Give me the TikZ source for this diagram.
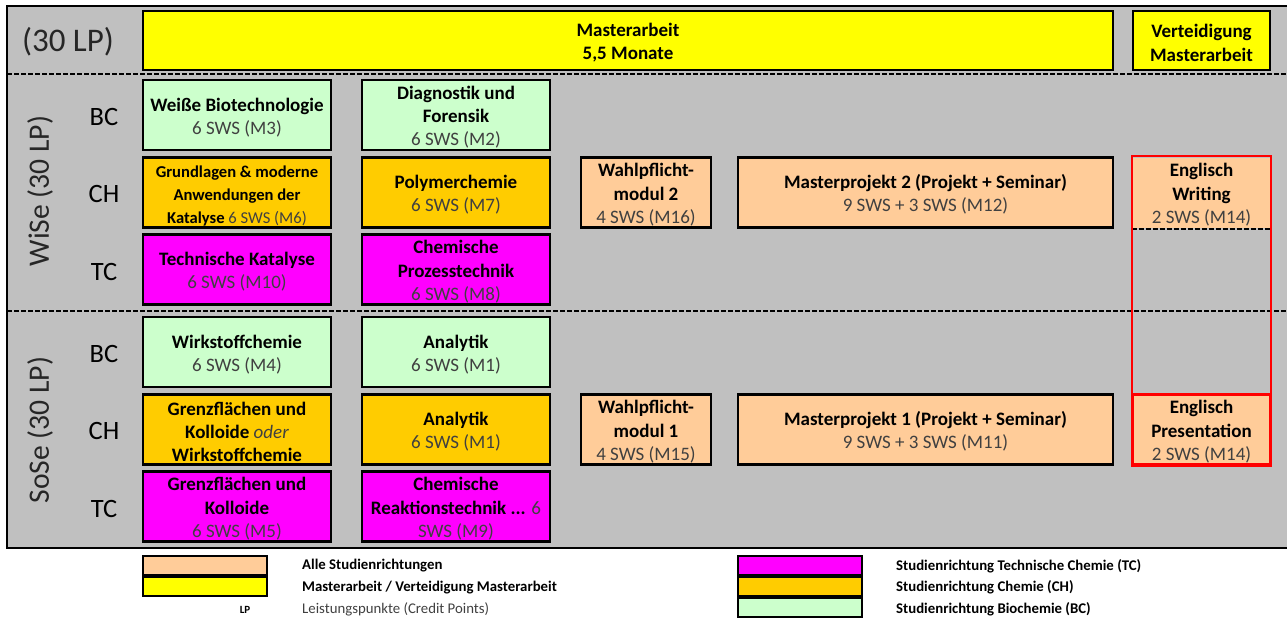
\documentclass[tikz,border=0pt]{standalone}
\usepackage{fontspec}
\setmainfont{Carlito}
\definecolor{bggray}{HTML}{C0C0C0}
\definecolor{cyellow}{HTML}{FFFF00}
\definecolor{cgreen}{HTML}{CCFFCC}
\definecolor{corange}{HTML}{FFCC00}
\definecolor{cmagenta}{HTML}{FF00FF}
\definecolor{cpeach}{HTML}{FFCC99}
\definecolor{cred}{HTML}{FF0000}
\definecolor{swsgray}{HTML}{404040}
\newcommand\swstext[1]{{\mdseries\color{swsgray}#1}}
\newcommand\fl{\rule{0pt}{18pt}}
\tikzset{
  modbox/.style={draw=black, line width=2.2pt, inner sep=0pt, align=center,
    font=\bfseries\fontsize{19}{23.2}\selectfont, text=black},
  smallbox/.style={modbox, font=\bfseries\fontsize{16.6}{23.2}\selectfont},
  w1/.style={minimum width=188pt, minimum height=70pt},
  w3/.style={minimum width=130pt, minimum height=70pt},
  w4/.style={minimum width=375pt, minimum height=70pt},
  w5/.style={minimum width=137pt, minimum height=70pt},
  sidelabel/.style={font=\fontsize{26.5}{30}\selectfont, inner sep=0pt},
  semlabel/.style={font=\fontsize{29.6}{32}\selectfont, inner sep=0pt, text=black!85},
  sepline/.style={line width=2pt, dash pattern=on 5pt off 2pt},
  legbox/.style={draw=black, line width=2pt, minimum width=124pt, minimum height=19pt, inner sep=0pt},
  legtext/.style={anchor=west, inner sep=0pt, font=\bfseries\fontsize{14.8}{17}\selectfont},
}
\begin{document}
\begin{tikzpicture}[x=1pt, y=-1pt]
\clip (0,0) rectangle (1287,619);
\useasboundingbox (0,0) rectangle (1287,619);
% background panel
\fill[bggray] (7,6) rectangle (1300,548);
\draw[line width=2.2pt] (1300,6) -- (7,6) -- (7,548) -- (1300,548);
\coordinate (s1l) at (7,74);
\coordinate (s1r) at (1300,74);
\coordinate (s2l) at (7,311);
\coordinate (s2r) at (1300,311);
\draw[sepline] (s1l) -- (s1r);
\draw[sepline] (s2l) -- (s2r);

% left labels
\node[semlabel, font=\fontsize{33}{36}\selectfont] (lp) at (68,42) {(30 LP)};
\node[semlabel, rotate=90] (wise) at (40,191) {WiSe (30 LP)};
\node[semlabel, rotate=90] (sose) at (40,430) {SoSe (30 LP)};
\node[sidelabel] (bc1) at (104,117) {BC};
\node[sidelabel] (ch1) at (104,194) {CH};
\node[sidelabel] (tc1) at (104,272) {TC};
\node[sidelabel] (bc2) at (104,354) {BC};
\node[sidelabel] (ch2) at (104,431) {CH};
\node[sidelabel] (tc2) at (104,509) {TC};

% top row
\node[modbox, fill=cyellow, minimum width=970pt, minimum height=59pt] (ma) at (628,40.5) {\fl Masterarbeit\\5,5 Monate};
\node[modbox, fill=cyellow, minimum width=137pt, minimum height=59pt] (vm) at (1201.5,40.5) {\fl Verteidigung\\Masterarbeit};

% WiSe
\node[modbox, w1, fill=cgreen] (m3) at (237,115) {\fl Weiße Biotechnologie\\\swstext{6 SWS (M3)}};
\node[modbox, w1, fill=cgreen] (m2) at (456,115) {\fl Diagnostik und\\Forensik\\\swstext{6 SWS (M2)}};
\node[smallbox, w1, fill=corange] (m6) at (237,192.5) {\fl Grundlagen \& moderne\\Anwendungen der\\Katalyse \swstext{6 SWS (M6)}};
\node[modbox, w1, fill=corange] (m7) at (456,192.5) {\fl Polymerchemie\\\swstext{6 SWS (M7)}};
\node[modbox, w3, fill=cpeach] (m16) at (646,192.5) {\fl Wahlpflicht-\\modul 2\\\swstext{4 SWS (M16)}};
\node[modbox, w4, fill=cpeach] (m12) at (925.5,192.5) {\fl Masterprojekt 2 (Projekt + Seminar)\\\swstext{9 SWS + 3 SWS (M12)}};
\node[modbox, w5, fill=cpeach, draw=none] (ew) at (1201.5,192.5) {\fl Englisch\\Writing\\\swstext{2 SWS (M14)}};
\node[modbox, w1, fill=cmagenta] (m10) at (237,269.5) {\fl Technische Katalyse\\\swstext{6 SWS (M10)}};
\node[modbox, w1, fill=cmagenta] (m8) at (456,269.5) {\fl Chemische\\Prozesstechnik\\\swstext{6 SWS (M8)}};

% SoSe
\node[modbox, w1, fill=cgreen] (m4) at (237,352) {\fl Wirkstoffchemie\\\swstext{6 SWS (M4)}};
\node[modbox, w1, fill=cgreen] (m1a) at (456,352) {\fl Analytik\\\swstext{6 SWS (M1)}};
\node[modbox, w1, fill=corange] (gk) at (237,429.5) {\fl Grenzflächen und\\Kolloide \swstext{\itshape oder}\\Wirkstoffchemie};
\node[modbox, w1, fill=corange] (m1b) at (456,429.5) {\fl Analytik\\\swstext{6 SWS (M1)}};
\node[modbox, w3, fill=cpeach] (m15) at (646,429.5) {\fl Wahlpflicht-\\modul 1\\\swstext{4 SWS (M15)}};
\node[modbox, w4, fill=cpeach] (m11) at (925.5,429.5) {\fl Masterprojekt 1 (Projekt + Seminar)\\\swstext{9 SWS + 3 SWS (M11)}};
\node[modbox, w5, fill=cpeach, draw=cred] (ep) at (1201.5,429.5) {\fl Englisch\\Presentation\\\swstext{2 SWS (M14)}};
\node[modbox, w1, fill=cmagenta] (m5) at (237,506.5) {\fl Grenzflächen und\\Kolloide\\\swstext{6 SWS (M5)}};
\node[modbox, w1, fill=cmagenta] (m9) at (456,506.5) {\fl Chemische\\Reaktionstechnik ... \swstext{6}\\\swstext{SWS (M9)}};

% English frame
\draw[line width=2pt, dash pattern=on 5pt off 2pt] (ew.south west) -- (ew.south east);
\draw[cred, line width=2pt] (ew.north west) rectangle (ep.south east);

% legend
\node[legbox, fill=cpeach] (lg1) at (205,565.5) {};
\node[legbox, fill=cyellow] (lg2) at (205,586.5) {};
\node[inner sep=0pt, font=\bfseries\fontsize{11}{12}\selectfont] (lg3) at (245,609.5) {LP};
\node[legtext] (lt1) at (302,566) {Alle Studienrichtungen};
\node[legtext] (lt2) at (302,587.5) {Masterarbeit / Verteidigung Masterarbeit};
\node[legtext, font=\mdseries\fontsize{14.8}{17}\selectfont, text=swsgray] (lt3) at (302,609) {Leistungspunkte (Credit Points)};
\node[legbox, fill=cmagenta] (lg4) at (800,565.5) {};
\node[legbox, fill=corange] (lg5) at (800,586.5) {};
\node[legbox, fill=cgreen] (lg6) at (800,607.5) {};
\node[legtext] (lt4) at (896,566) {Studienrichtung Technische Chemie (TC)};
\node[legtext] (lt5) at (896,587.5) {Studienrichtung Chemie (CH)};
\node[legtext] (lt6) at (896,609) {Studienrichtung Biochemie (BC)};
\end{tikzpicture}
\end{document}
